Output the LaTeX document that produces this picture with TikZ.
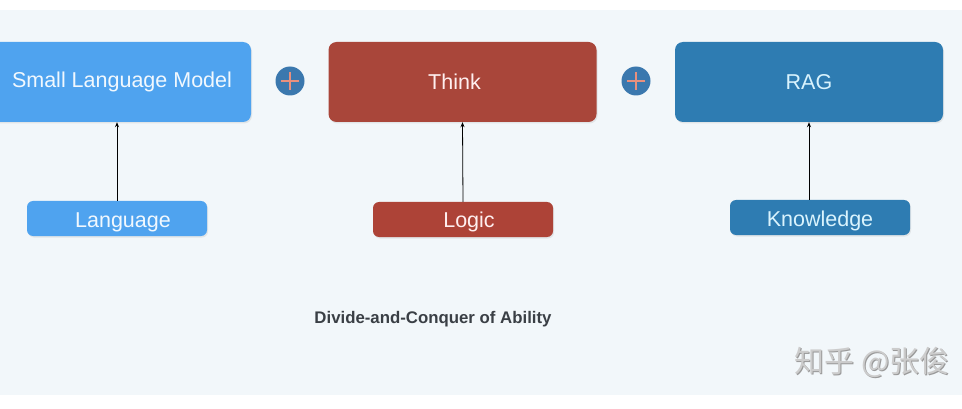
\documentclass[tikz,border=0pt]{standalone}
\usepackage{fontspec}
\setmainfont{Liberation Sans}
\newfontfamily\cjkfont{Noto Sans CJK SC}
\usetikzlibrary{arrows.meta,shadows}
\definecolor{bgband}{HTML}{F2F7FA}
\definecolor{slmblue}{HTML}{4FA3EF}
\definecolor{thinkred}{HTML}{A9463A}
\definecolor{ragblue}{HTML}{2E7CB2}
\definecolor{plusblue}{HTML}{3B78AE}
\definecolor{pluscross}{HTML}{E8907E}
\definecolor{titlegray}{HTML}{3A3F45}
\tikzset{
  bigbox/.style={rounded corners=8pt, minimum width=268pt, minimum height=80pt, inner sep=0pt,
    font=\fontsize{21.5}{24}\selectfont, drop shadow={shadow xshift=1pt, shadow yshift=-1.5pt, opacity=0.15}},
  smallbox/.style={rounded corners=6pt, minimum width=180pt, minimum height=35pt, inner sep=0pt,
    text height=17pt, text depth=0pt,
    font=\fontsize{21.5}{24}\selectfont, drop shadow={shadow xshift=1pt, shadow yshift=-1.5pt, opacity=0.15}},
  plusnode/.style={circle, fill=plusblue, minimum size=29pt, inner sep=0pt,
    path picture={\draw[pluscross, line width=1.6pt] ([xshift=-9pt]path picture bounding box.center) -- ([xshift=9pt]path picture bounding box.center);
                  \draw[pluscross, line width=1.6pt] ([yshift=-9pt]path picture bounding box.center) -- ([yshift=9pt]path picture bounding box.center);}},
  feed/.style={-{Stealth[length=5pt,width=4pt]}, line width=0.8pt, black}
}
\begin{document}
\begin{tikzpicture}[x=1pt,y=-1pt]
\useasboundingbox (0,0) rectangle (962,409);
\clip (0,0) rectangle (962,409);
\fill[white] (0,0) rectangle (962,409);
\fill[bgband] (0,10) rectangle (962,395);

% top boxes
\node[bigbox, fill=slmblue, text=white!92!slmblue] (slm) at (117,82) {\hspace*{10pt}Small Language Model};
\node[bigbox, fill=thinkred, text=white!75!pink] (think) at (462.5,82) {Think\hspace*{16pt}};
\node[bigbox, fill=ragblue, text=white!85!cyan] (rag) at (809,82) {RAG};

% plus signs
\node[plusnode] (p1) at (290,81) {};
\node[plusnode] (p2) at (636,81) {};

% bottom boxes
\node[smallbox, fill=slmblue, text=white!92!slmblue] (lang) at (117,218.5) {\hspace*{12pt}Language};
\node[smallbox, fill=thinkred!95!red, text=white!75!pink] (logic) at (463,219.5) {\hspace*{12pt}Logic};
\node[smallbox, fill=ragblue, text=white!85!cyan] (know) at (820,217.5) {Knowledge};

% connectors
\draw[feed] (lang.north) -- (slm.south);
\draw[feed] (logic.north) -- (think.south);
\coordinate (kn) at (809,200);
\draw[feed] (kn) -- (rag.south);

% title
\node[font=\fontsize{16.8}{20}\selectfont\bfseries, text=titlegray] (title) at (433,319) {Divide-and-Conquer of Ability};

% watermark
\node[font=\cjkfont\fontsize{30}{32}\selectfont, text=black!40, anchor=base west] (wmshadow) at (792,373) {知乎 @张俊};
\node[font=\cjkfont\fontsize{30}{32}\selectfont, text=black!20, anchor=base west] (wm) at (791,372) {知乎 @张俊};
\end{tikzpicture}
\end{document}
